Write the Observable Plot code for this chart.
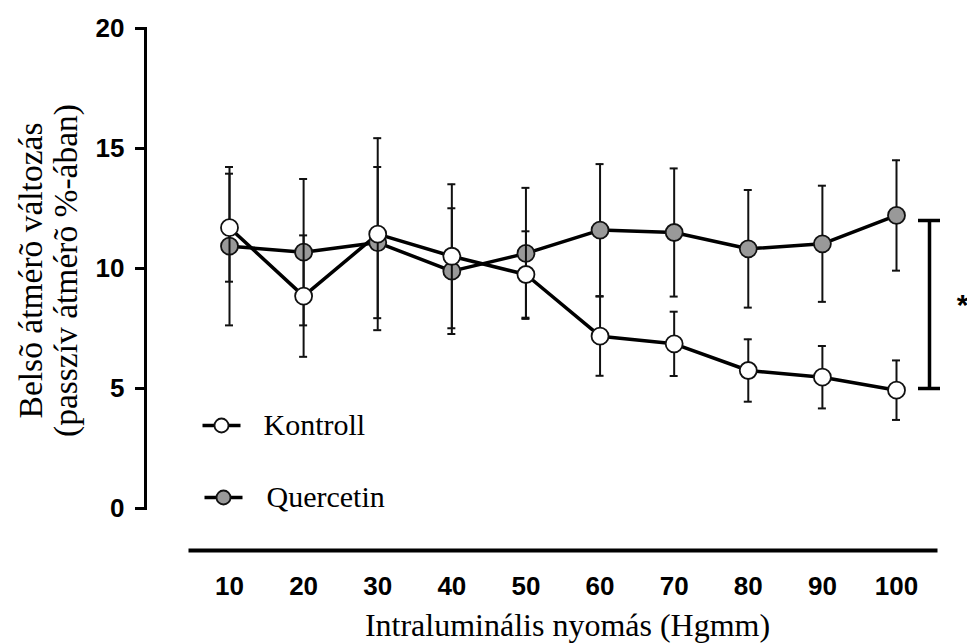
<!DOCTYPE html>
<html>
<head>
<meta charset="utf-8">
<script src="https://cdn.jsdelivr.net/npm/d3@7"></script>
<script src="https://cdn.jsdelivr.net/npm/@observablehq/plot@0.6"></script>
<style>
  html, body { margin: 0; padding: 0; background: #fff; }
</style>
</head>
<body>
<div id="chart"></div>
<script>
// ---- data ----
const pressures = [10, 20, 30, 40, 50, 60, 70, 80, 90, 100];
const kontroll = [11.7, 8.85, 11.43, 10.51, 9.75, 7.18, 6.86, 5.75, 5.47, 4.93];
const kontrollErr = [2.25, 2.53, 4.0, 3.0, 1.8, 1.65, 1.34, 1.3, 1.3, 1.24];
const quercetin = [10.93, 10.68, 11.08, 9.89, 10.63, 11.6, 11.5, 10.82, 11.03, 12.21];
const quercetinErr = [3.3, 3.05, 3.15, 2.62, 2.73, 2.75, 2.67, 2.45, 2.42, 2.3];
const yTicks = [0, 5, 10, 15, 20];
const xTicks = pressures;
const seriesNames = ["Kontroll", "Quercetin"];
const seriesFills = ["#ffffff", "#999999"];
const sigRange = [5, 12];        // significance bracket ends
const sigLabel = "*";
const xTitle = "Intraluminális nyomás (Hgmm)";
const yTitle = "Belsõ átmérõ változás\n(passzív átmérõ %-ában)";

const mk = (means, errs) => pressures.map((p, i) => ({
  x: p, y: means[i], lo: means[i] - errs[i], hi: means[i] + errs[i]
}));
const dK = mk(kontroll, kontrollErr);
const dQ = mk(quercetin, quercetinErr);

const sans = "'Liberation Sans', Arial, Helvetica, sans-serif";
const serif = "'Liberation Serif', 'Times New Roman', Times, serif";

function errMarks(data) {
  return [
    Plot.ruleX(data, {x: "x", y1: "lo", y2: "hi", stroke: "#111", strokeWidth: 2}),
    Plot.ruleY(data, {y: "lo", x1: "x", x2: "x", insetLeft: -4, insetRight: -4, stroke: "#111", strokeWidth: 2}),
    Plot.ruleY(data, {y: "hi", x1: "x", x2: "x", insetLeft: -4, insetRight: -4, stroke: "#111", strokeWidth: 2})
  ];
}

const stubSymbol = {
  draw(context) { context.moveTo(-19, 0); context.lineTo(19, 0); }
};
function legendItem(i, dx, dy, tdx) {
  return [
    Plot.dot([seriesNames[i]], {frameAnchor: "top-left", dx, dy, symbol: stubSymbol, r: 5, fill: "none", stroke: "#000", strokeWidth: 3.5}),
    Plot.dot([seriesNames[i]], {frameAnchor: "top-left", dx, dy, r: 7, fill: seriesFills[i], stroke: "#111", strokeWidth: 1.8}),
    Plot.text([seriesNames[i]], {frameAnchor: "top-left", dx: tdx, dy, text: d => d, textAnchor: "start", lineAnchor: "middle", fontFamily: serif, fontSize: 30, fill: "#000"})
  ];
}

const chart = Plot.plot({
  width: 967,
  height: 644,
  marginLeft: 145,
  marginRight: 32,
  marginTop: 28,
  marginBottom: 136,
  x: {domain: [10, 100], range: [229, 896]},
  y: {domain: [0, 20]},
  style: {background: "#fff", fontFamily: sans, color: "#000"},
  marks: [
    // y axis
    Plot.frame({anchor: "left", stroke: "#000", strokeWidth: 3}),
    Plot.axisY({ticks: yTicks, label: null, tickSize: 10, tickPadding: 11, strokeWidth: 3, fontSize: 26, fontWeight: "bold", fontFamily: sans, tickFormat: d => String(d)}),
    // separate x axis line below
    Plot.frame({anchor: "bottom", dy: 42, insetLeft: 45, stroke: "#000", strokeWidth: 4}),
    Plot.axisX({ticks: xTicks, label: null, tickSize: 0, tickPadding: 68, fontSize: 26, fontWeight: "bold", fontFamily: sans, tickFormat: d => String(d)}),
    // titles
    Plot.text([xTitle], {frameAnchor: "bottom", dx: 27, dy: 117, text: d => d, textAnchor: "middle", fontFamily: serif, fontSize: 32, lineAnchor: "middle", fill: "#000"}),
    Plot.text([yTitle], {frameAnchor: "left", dx: -97, dy: 2, text: d => d, rotate: -90, textAnchor: "middle", fontFamily: serif, fontSize: 33.5, lineHeight: 1.05, lineAnchor: "middle", fill: "#000"}),
    // series lines
    Plot.line(dQ, {x: "x", y: "y", stroke: "#000", strokeWidth: 3.5}),
    Plot.line(dK, {x: "x", y: "y", stroke: "#000", strokeWidth: 3.5}),
    // Quercetin error bars + dots
    ...errMarks(dQ),
    Plot.dot(dQ, {x: "x", y: "y", r: 8.5, fill: seriesFills[1], stroke: "#111", strokeWidth: 1.8}),
    // Kontroll error bars + dots
    ...errMarks(dK),
    Plot.dot(dK, {x: "x", y: "y", r: 8.5, fill: seriesFills[0], stroke: "#111", strokeWidth: 1.8}),
    // significance bracket
    Plot.ruleX([pressures[pressures.length - 1]], {y1: sigRange[0], y2: sigRange[1], dx: 33, stroke: "#000", strokeWidth: 3.5}),
    Plot.ruleY(sigRange, {y: d => d, x1: pressures[pressures.length - 1], x2: pressures[pressures.length - 1], dx: 33, insetLeft: -11, insetRight: -11, stroke: "#000", strokeWidth: 3.5}),
    Plot.text([sigLabel], {x: pressures[pressures.length - 1], y: (sigRange[0] + sigRange[1]) / 2, dx: 66, dy: 1, text: d => d, fontFamily: sans, fontWeight: "bold", fontSize: 30, fill: "#000"}),
    // legend
    ...legendItem(0, 76, 397, 118),
    ...legendItem(1, 78, 469, 121)
  ]
});
document.getElementById("chart").appendChild(chart);
</script>
</body>
</html>
